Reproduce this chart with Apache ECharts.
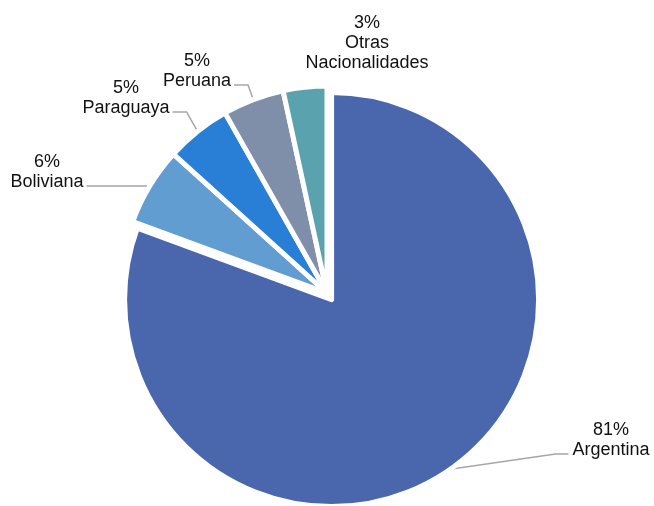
<!DOCTYPE html>
<html><head><meta charset="utf-8">
<script src="https://cdn.jsdelivr.net/npm/echarts@6/dist/echarts.min.js"></script>
<style>html,body{margin:0;padding:0;background:#fff}#c{width:654px;height:506px}</style>
</head><body><div id="c"></div>
<script>
const categories = ['Argentina', 'Boliviana', 'Paraguaya', 'Peruana', 'Otras\nNacionalidades'];
const values = [80.6, 6.1, 5.1, 4.8, 3.4];
const colors = ['#4A66AC', '#629DD1', '#297FD5', '#7F8FA9', '#5AA2AE'];
// exploded slice (Argentina) is drawn in its own pie layer, shifted outward
const explodedIndex = 0;
const labelCenters = [[611, 440], [47, 172], [126, 98], [197, 71], [367, 43]];

const CENTER = [327, 293];
const R = 207;
const OFFSET = [4.6, 6.6];

function makeLabelLayout(seriesIdx) {
  return function (p) {
    const i = p.dataIndex;
    const [cx, cy] = labelCenters[i];
    const w = p.labelRect.width;
    const pts = p.labelLinePoints;
    const out = { x: cx, y: cy, align: 'center', verticalAlign: 'middle' };
    if (pts && pts.length) {
      const isRight = cx > CENTER[0] + 60;
      const ex = isRight ? cx - w / 2 - 4 : cx + w / 2 + 3;
      const ey = cy + 14;
      const mx = isRight ? ex - 13 : ex + 14;
      out.labelLinePoints = [pts[0], [mx, ey], [ex, ey]];
    }
    return out;
  };
}

const labelBase = {
  show: true,
  position: 'outside',
  fontFamily: 'Liberation Sans, Arial, sans-serif',
  fontSize: 18,
  lineHeight: 20,
  color: '#111',
  formatter: p => Math.round(p.percent) + '%\n' + p.name
};
const lineBase = { show: true, length: 14, length2: 12, lineStyle: { color: '#a6a6a6', width: 1.5 } };

function buildData(layer) {
  return categories.map((c, i) => {
    const mine = (layer === 'exploded') === (i === explodedIndex);
    if (!mine) {
      return {
        name: c, value: values[i],
        itemStyle: { color: 'rgba(0,0,0,0)', borderWidth: 0 },
        label: { show: false }, labelLine: { show: false },
        emphasis: { disabled: true }
      };
    }
    return {
      name: c, value: values[i],
      itemStyle: { color: colors[i] },
      labelLine: { show: i !== 4 }
    };
  });
}

const chart = echarts.init(document.getElementById('c'));
chart.setOption({
  animation: false,
  series: [
    {
      type: 'pie',
      center: CENTER,
      radius: [0, R],
      startAngle: 90,
      clockwise: true,
      silent: true,
      itemStyle: { borderColor: '#fff', borderWidth: 5 },
      label: labelBase,
      labelLine: lineBase,
      labelLayout: makeLabelLayout(0),
      data: buildData('rest')
    },
    {
      type: 'pie',
      center: [CENTER[0] + OFFSET[0], CENTER[1] + OFFSET[1]],
      radius: [0, R],
      startAngle: 90,
      clockwise: true,
      silent: true,
      itemStyle: { borderColor: '#fff', borderWidth: 5 },
      label: labelBase,
      labelLine: lineBase,
      labelLayout: makeLabelLayout(1),
      data: buildData('exploded')
    }
  ]
});
</script></body></html>
